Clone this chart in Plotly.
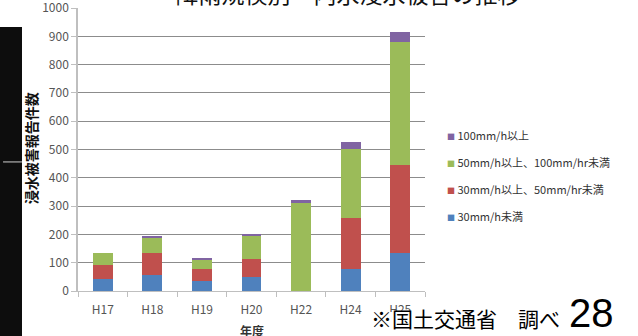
import plotly.graph_objects as go

# data (件数)
years = ['H17', 'H18', 'H19', 'H20', 'H22', 'H24', 'H25']
under_30 = [42, 55, 35, 49, 0, 79, 135]
from_30_to_50 = [50, 80, 44, 63, 0, 178, 312]
from_50_to_100 = [42, 54, 32, 81, 312, 246, 434]
over_100 = [0, 5, 3, 10, 8, 25, 34]

series_names = ['30mm/h未満', '30mm/h以上、50mm/hr未満',
                '50mm/h以上、100mm/hr未満', '100mm/h以上']
series_values = [under_30, from_30_to_50, from_50_to_100, over_100]
series_colors = ['#4F81BD', '#C0504D', '#9BBB59', '#8064A2']

y_ticks = list(range(0, 1001, 100))

FONT = 'Noto Sans CJK JP'

fig = go.Figure()
for i, (name, vals, col) in enumerate(zip(series_names, series_values, series_colors)):
    fig.add_trace(go.Bar(
        x=years, y=vals, name=name, marker_color=col,
        marker_line_width=0, width=0.4, showlegend=False,
    ))
    # legend entry: small coloured square drawn in the label itself (Excel look)
    fig.add_trace(go.Scatter(
        x=[None], y=[None], mode='markers', legendgroup=f'g{i}',
        legendrank=100 - i,  # top series first
        name=f"<span style='font-size:8px;color:{col}'>■</span> {name}",
        marker=dict(size=1, color='rgba(0,0,0,0)'),
    ))

fig.update_layout(
    barmode='stack',
    width=638, height=336,
    margin=dict(l=78, r=213, t=8, b=45, autoexpand=False),
    paper_bgcolor='white', plot_bgcolor='white',
    font=dict(family=FONT, color='#404040'),
    legend=dict(
        x=0.948, y=0.60, xanchor='left', yanchor='top',
        traceorder='grouped', itemwidth=30, tracegroupgap=8,
        font=dict(size=11, color='#333333'),
        bgcolor='rgba(0,0,0,0)',
    ),
    shapes=[
        # dark slide strip on the left
        dict(type='rect', xref='paper', yref='paper', x0=-0.2248, x1=-0.1614,
             y0=-0.2, y1=0.933, fillcolor='#0d0d0d', line_width=0, layer='below'),
        dict(type='line', xref='paper', yref='paper', x0=-0.216, x1=-0.1614,
             y0=0.456, y1=0.456, line=dict(color='#d0d0d0', width=1)),
        # white box of the source note, hiding the lower half of the last label
        dict(type='rect', xref='paper', yref='paper', x0=0.8415, x1=1.395,
             y0=-0.16, y1=-0.0742, fillcolor='white', line_width=0, layer='above'),
    ],
    annotations=[
        dict(text='降雨規模別　内水浸水被害の推移', xref='paper', yref='paper',
             x=0.777, y=1.053, xanchor='center', yanchor='middle', showarrow=False,
             font=dict(size=23, color='#111111', family=FONT),
             bgcolor='white', width=390, height=34),
        dict(text='<b>浸水被害報告件数</b>', xref='paper', yref='paper', x=-0.135, y=0.505,
             textangle=-90, showarrow=False, xanchor='center', yanchor='middle',
             font=dict(size=14, color='#111111', family=FONT)),
        dict(text='<b>年度</b>', xref='paper', yref='paper', x=0.5, y=-0.138,
             showarrow=False, xanchor='center', yanchor='middle',
             font=dict(size=12, color='#333333', family=FONT)),
        dict(text='※国土交通省　調べ', xref='paper', yref='paper', x=1.118,
             y=-0.095, showarrow=False, xanchor='center', yanchor='middle',
             font=dict(size=21, color='black', family=FONT)),
        dict(text='28', xref='paper', yref='paper', x=1.481, y=-0.078,
             showarrow=False, xanchor='center', yanchor='middle',
             font=dict(size=40, color='black', family='Liberation Sans')),
    ],
)

fig.update_xaxes(
    showline=True, linecolor='#bfbfbf', linewidth=1,
    ticks='outside', tickson='boundaries', ticklen=5, tickcolor='#bfbfbf',
    tickfont=dict(size=12, color='#555555'), ticklabelstandoff=8,
)
fig.update_yaxes(
    range=[0, 1000], tickvals=y_ticks,
    showline=True, linecolor='#bfbfbf', linewidth=1.5,
    ticks='outside', ticklen=5, tickcolor='#bfbfbf',
    showgrid=True, gridcolor='#8c8c8c', gridwidth=1,
    tickfont=dict(size=12, color='#555555'), ticklabeloverflow='allow',
    zeroline=False,
)

# the page's default 8px body margin would shift the whole chart
fig.write_html('out.html', config={'displayModeBar': False},
               post_script="document.body.style.margin='0';")
